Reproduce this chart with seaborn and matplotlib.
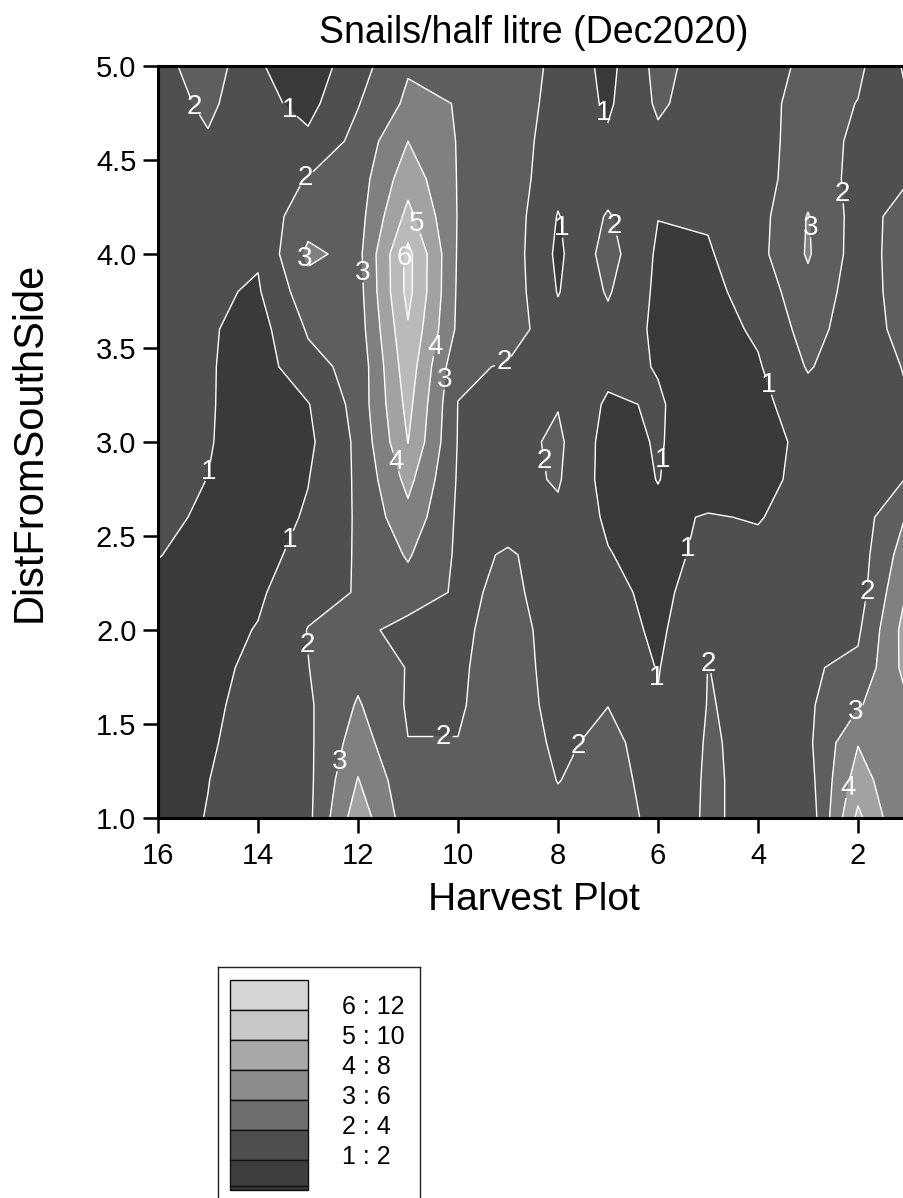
import numpy as np
import pandas as pd
import seaborn as sns
import matplotlib
matplotlib.use("Agg")
from matplotlib import pyplot as plt
from matplotlib.patches import Rectangle

# distance from south side (rows, top to bottom) and harvest plots (columns, left to right)
dist = [5.0, 4.8, 4.6, 4.4, 4.2, 4.0, 3.8, 3.6, 3.4, 3.2, 3.0,
        2.8, 2.6, 2.4, 2.2, 2.0, 1.8, 1.6, 1.4, 1.2, 1.0]
plots = [16, 15, 14, 13, 12, 11, 10, 9, 8, 7, 6, 5, 4, 3, 2, 1]

# snails/half litre, one list per harvest plot (values for dist above)
plot16 = [1.6, 1.55, 1.5, 1.5, 1.5, 1.45, 1.4, 1.4, 1.4, 1.35, 1.3, 1.25, 1.15, 1.02, 0.85, 0.75, 0.7, 0.65, 0.6, 0.6, 0.6]
plot15 = [2.6, 2.2, 1.9, 1.6, 1.45, 1.3, 1.15, 1.12, 1.1, 1.1, 1.08, 0.99, 0.9, 0.8, 0.7, 0.65, 0.7, 0.75, 0.85, 0.98, 1.04]
plot14 = [1.1, 1.3, 1.4, 1.45, 1.35, 1.1, 0.9, 0.6, 0.5, 0.45, 0.4, 0.45, 0.55, 0.7, 0.85, 1.05, 1.25, 1.45, 1.57, 1.6, 1.6]
plot13 = [0.4, 0.7, 1.2, 2.05, 2.6, 3.2, 2.6, 2.1, 1.7, 0.95, 0.8, 0.97, 1.1, 1.3, 1.7, 2.03, 1.98, 1.85, 1.8, 1.75, 1.75]
plot12 = [1.6, 1.95, 2.3, 2.5, 2.6, 2.7, 2.6, 2.5, 2.3, 2.35, 2.2, 2.15, 2.12, 2.1, 2.05, 2.3, 2.7, 3.1, 3.5, 4.05, 4.6]
plot11 = [2.9, 3.2, 4.0, 4.6, 5.3, 6.3, 6.3, 5.9, 5.6, 5.3, 5.02, 4.3, 3.7, 3.1, 2.6, 1.62, 1.95, 1.9, 2.02, 2.3, 2.46]
plot10 = [2.8, 2.97, 2.95, 2.95, 2.95, 2.9, 2.85, 2.8, 2.2, 1.98, 1.95, 1.9, 1.85, 1.85, 1.85, 1.8, 1.85, 1.9, 2.02, 2.3, 2.4]
plot9 = [2.5, 2.5, 2.55, 2.6, 2.6, 2.6, 2.6, 2.55, 1.9, 1.75, 1.6, 1.65, 1.8, 2.05, 2.15, 2.4, 2.5, 2.5, 2.5, 2.55, 2.6]
plot8 = [1.8, 1.7, 1.5, 1.3, 0.95, 0.8, 0.95, 1.3, 1.6, 1.95, 2.2, 2.1, 1.8, 1.8, 1.7, 1.6, 1.6, 1.7, 1.85, 1.98, 2.2]
plot7 = [0.7, 0.85, 1.15, 1.5, 2.1, 2.4, 2.1, 1.7, 1.3, 0.85, 0.6, 0.6, 0.85, 1.05, 1.3, 1.5, 1.8, 1.99, 2.2, 2.3, 2.35]
plot6 = [2.3, 2.15, 1.8, 1.4, 1.02, 0.85, 0.8, 0.8, 0.95, 1.1, 1.08, 1.02, 0.85, 0.6, 0.7, 0.8, 0.95, 1.05, 1.63, 1.7, 1.8]
plot5 = [1.55, 1.5, 1.45, 1.35, 1.1, 0.9, 0.75, 0.6, 0.5, 0.45, 0.45, 0.6, 1.05, 1.3, 1.6, 1.9, 2.01, 2.03, 2.04, 2.05, 2.04]
plot4 = [1.8, 1.6, 1.6, 1.6, 1.65, 1.7, 1.4, 1.15, 0.9, 0.7, 0.6, 0.7, 0.95, 1.2, 1.45, 1.65, 1.75, 1.85, 1.9, 1.9, 1.92]
plot3 = [2.1, 2.45, 2.5, 2.6, 3.05, 3.1, 2.7, 2.4, 2.08, 1.6, 1.27, 1.3, 1.35, 1.45, 1.6, 1.75, 1.9, 1.85, 1.8, 1.6, 1.3]
plot2 = [2.2, 1.97, 1.8, 1.7, 1.6, 1.55, 1.5, 1.45, 1.4, 1.38, 1.35, 1.4, 1.45, 1.5, 1.55, 1.85, 2.2, 2.9, 3.95, 4.5, 5.24]
plot1 = [0.8, 1.02, 1.3, 1.95, 2.4, 2.5, 2.5, 2.4, 2.1, 1.95, 1.9, 2.05, 3.1, 3.6, 4.1, 4.5, 4.4, 3.95, 3.5, 2.9, 2.8]

levels = [0, 1, 2, 3, 4, 5, 6, 7]
line_levels = [1, 2, 3, 4, 5, 6]
legend_labels = ["6 : 12", "5 : 10", "4 : 8", "3 : 6", "2 : 4", "1 : 2"]

band_colors = ['#3a3a3a', '#4f4f4f', '#5e5e5e', '#808080', '#a2a2a2', '#bababa', '#cbcbcb']
legend_colors = ['#d6d6d6', '#c8c8c8', '#a8a8a8', '#8c8c8c', '#6e6e6e', '#4e4e4e', '#3e3e3e']

# where the contour labels sit (data coords)
label_spots = [(15.3, 4.78), (13.42, 4.75), (13.02, 4.39), (13.02, 3.98), (11.92, 3.9),
               (10.9, 4.15), (11.06, 3.98), (10.5, 3.51), (10.26, 3.33), (9.1, 3.44),
               (14.96, 2.84), (11.3, 2.89), (13.46, 2.49), (13.06, 1.92), (12.4, 1.3),
               (10.3, 1.36), (7.86, 4.14), (6.84, 4.15), (7.32, 4.72), (8.2, 2.9),
               (7.56, 1.38), (5.76, 2.9), (5.58, 2.44), (6.12, 1.74), (3.8, 3.3),
               (4.6, 1.89), (2.96, 4.14), (2.36, 4.32), (1.66, 2.2), (1.84, 1.53),
               (2.26, 1.16)]

df = pd.DataFrame({16: plot16, 15: plot15, 14: plot14, 13: plot13, 12: plot12,
                   11: plot11, 10: plot10, 9: plot9, 8: plot8, 7: plot7, 6: plot6,
                   5: plot5, 4: plot4, 3: plot3, 2: plot2, 1: plot1}, index=dist)
df = df.sort_index().sort_index(axis=1)
X = df.columns.values.astype(float)
Y = df.index.values.astype(float)
Z = df.values

sns.set_style("ticks")
plt.rcParams['font.family'] = ['Liberation Sans', 'DejaVu Sans']
plt.rcParams['text.color'] = 'black'
plt.rcParams['axes.labelcolor'] = 'black'
plt.rcParams['xtick.color'] = 'black'
plt.rcParams['ytick.color'] = 'black'

W, H = 904, 1198
fig = plt.figure(figsize=(W / 100, H / 100), dpi=100)
ax = fig.add_axes([158 / W, 1 - 818 / H, 750 / W, 752 / H])

ax.contourf(X, Y, Z, levels=levels, colors=band_colors)
cs = ax.contour(X, Y, Z, levels=line_levels, colors='white', linewidths=1.0)
texts = ax.clabel(cs, fmt='%d', fontsize=20, colors='white', inline=True,
                  inline_spacing=2, manual=label_spots)
for t in texts:
    t.set_rotation(0)

ax.set_xlim(16, 1)
ax.set_ylim(1, 5)
ax.set_xticks([16, 14, 12, 10, 8, 6, 4, 2])
ax.set_yticks([1.0, 1.5, 2.0, 2.5, 3.0, 3.5, 4.0, 4.5, 5.0])
ax.set_yticklabels([f"{v:.1f}" for v in [1.0, 1.5, 2.0, 2.5, 3.0, 3.5, 4.0, 4.5, 5.0]])
ax.tick_params(direction='out', length=10.5, width=1.8, labelsize=21, color='black')
ax.tick_params(axis='x', pad=7)
ax.tick_params(axis='y', pad=5)
for s in ax.spines.values():
    s.set_linewidth(2.2)
    s.set_color('black')

fig.text(534 / W, 1 - 33 / H, "Snails/half litre (Dec2020)", ha='center', va='center', fontsize=27)
fig.text(534 / W, 1 - 900 / H, "Harvest Plot", ha='center', va='center', fontsize=28)
fig.text(30 / W, 1 - 442 / H, "DistFromSouthSide", ha='center', va='center',
         rotation=90, fontsize=30)

# legend box with colour swatches
lax = fig.add_axes([218 / W, 0, (420 - 218) / W, (H - 967) / H])
lax.set_xlim(218, 420)
lax.set_ylim(H, 967)
lax.set_xticks([])
lax.set_yticks([])
lax.set_facecolor('white')
for side in ['left', 'top', 'right']:
    lax.spines[side].set_linewidth(1.0)
    lax.spines[side].set_color('#222222')
lax.spines['bottom'].set_visible(False)

edges = [980, 1010, 1040, 1070, 1100, 1130, 1160, 1186]
for i, col in enumerate(legend_colors):
    lax.add_patch(Rectangle((230, edges[i]), 78, edges[i + 1] - edges[i],
                            facecolor=col, edgecolor='#111111', linewidth=1.0))
lax.add_patch(Rectangle((230, 1186), 78, 4, facecolor='#383838', edgecolor='#111111', linewidth=1.0))
for lab, yb in zip(legend_labels, edges[1:7]):
    lax.text(342, yb - 3, lab, ha='left', va='center', fontsize=18)

fig.savefig("out.png", dpi=100)
